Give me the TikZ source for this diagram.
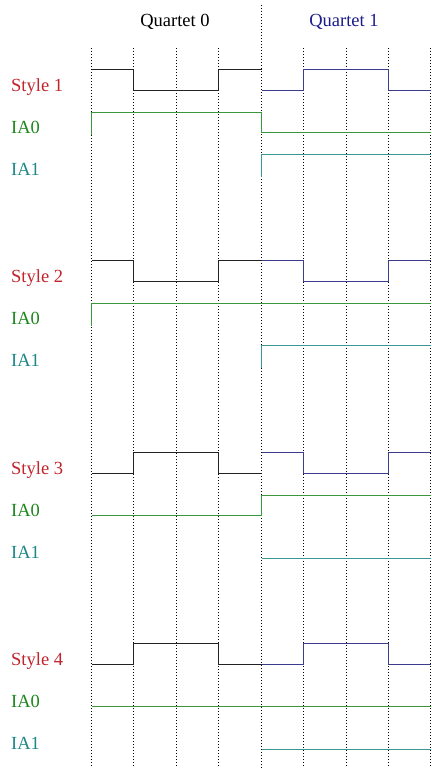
\documentclass[tikz,border=0pt]{standalone}
\usepackage{fontspec}
\setmainfont{Liberation Serif}
\definecolor{lblred}{RGB}{192,36,44}
\definecolor{lblgreen}{RGB}{30,135,30}
\definecolor{lblteal}{RGB}{30,135,135}
\definecolor{qblue}{RGB}{28,28,140}
\definecolor{sigblack}{RGB}{34,34,34}
\definecolor{sigblue}{RGB}{60,60,140}
\definecolor{siggreen}{RGB}{60,150,60}
\definecolor{sigteal}{RGB}{60,150,150}
\begin{document}
\begin{tikzpicture}[x=1pt,y=-1pt,
  gridline/.style={draw=black,line width=0.9pt,dash pattern=on 1pt off 2pt},
  sig/.style={line width=1.2pt},
  sblack/.style={sig,draw=sigblack},
  sblue/.style={sig,draw=sigblue},
  sgreen/.style={sig,draw=siggreen},
  steal/.style={sig,draw=sigteal},
  lbl/.style={anchor=base west,inner sep=0pt,font=\fontsize{18.5}{20}\selectfont},
  hdr/.style={anchor=base,inner sep=0pt,font=\fontsize{18.5}{20}\selectfont}]
\useasboundingbox (0,0) rectangle (431,768);
\fill[white] (0,0) rectangle (431,768);
% grid
\foreach \x in {91.5,133.5,176.5,218.5,303.5,346.5,388.5,430.5}
  \draw[gridline] (\x,48) -- (\x,768);
\draw[gridline] (261.5,5) -- (261.5,768);
% headers
\node[hdr] (q0) at (175,26.5) {Quartet 0};
\node[hdr,text=qblue] (q1) at (344,26.5) {Quartet 1};
% row 1
\begin{scope}[shift={(0,91)}]
\node[lbl,text=lblred] (s1) at (11,0) {Style 1};
\node[lbl,text=lblgreen] (a01) at (11,42) {IA0};
\node[lbl,text=lblteal] (a11) at (11,84.5) {IA1};
\draw[sblack] (91.5,-21.5) -- (133.5,-21.5) -- (133.5,-0.5) -- (218.5,-0.5) -- (218.5,-21.5) -- (261.5,-21.5);
\draw[sblue] (261.5,-0.5) -- (303.5,-0.5) -- (303.5,-21.5) -- (388.5,-21.5) -- (388.5,-0.5) -- (431,-0.5);
\draw[sgreen] (91.5,44) -- (91.5,21.5) -- (261.5,21.5) -- (261.5,41.5) -- (431,41.5);
\draw[steal] (261.5,86) -- (261.5,63.5) -- (431,63.5);
\end{scope}
% row 2
\begin{scope}[shift={(0,282)}]
\node[lbl,text=lblred] (s2) at (11,0) {Style 2};
\node[lbl,text=lblgreen] (a02) at (11,42.5) {IA0};
\node[lbl,text=lblteal] (a12) at (11,84.5) {IA1};
\draw[sblack] (91.5,-21.5) -- (133.5,-21.5) -- (133.5,-0.5) -- (218.5,-0.5) -- (218.5,-21.5) -- (261.5,-21.5);
\draw[sblue] (261.5,-21.5) -- (303.5,-21.5) -- (303.5,-0.5) -- (388.5,-0.5) -- (388.5,-21.5) -- (431,-21.5);
\draw[sgreen] (91.5,44) -- (91.5,21.5) -- (431,21.5);
\draw[steal] (261.5,86) -- (261.5,63.5) -- (431,63.5);
\end{scope}
% row 3
\begin{scope}[shift={(0,474)}]
\node[lbl,text=lblred] (s3) at (11,0) {Style 3};
\node[lbl,text=lblgreen] (a03) at (11,42) {IA0};
\node[lbl,text=lblteal] (a13) at (11,84.5) {IA1};
\draw[sblack] (91.5,-0.5) -- (133.5,-0.5) -- (133.5,-21.5) -- (218.5,-21.5) -- (218.5,-0.5) -- (261.5,-0.5);
\draw[sblue] (261.5,-21.5) -- (303.5,-21.5) -- (303.5,-0.5) -- (388.5,-0.5) -- (388.5,-21.5) -- (431,-21.5);
\draw[sgreen] (91.5,41.5) -- (261.5,41.5) -- (261.5,21.5) -- (431,21.5);
\draw[steal] (261.5,84.5) -- (431,84.5);
\end{scope}
% row 4
\begin{scope}[shift={(0,665)}]
\node[lbl,text=lblred] (s4) at (11,0) {Style 4};
\node[lbl,text=lblgreen] (a04) at (11,42) {IA0};
\node[lbl,text=lblteal] (a14) at (11,84.5) {IA1};
\draw[sblack] (91.5,-0.5) -- (133.5,-0.5) -- (133.5,-21.5) -- (218.5,-21.5) -- (218.5,-0.5) -- (261.5,-0.5);
\draw[sblue] (261.5,-0.5) -- (303.5,-0.5) -- (303.5,-21.5) -- (388.5,-21.5) -- (388.5,-0.5) -- (431,-0.5);
\draw[sgreen] (91.5,41.5) -- (431,41.5);
\draw[steal] (261.5,84.5) -- (431,84.5);
\end{scope}
\end{tikzpicture}
\end{document}
